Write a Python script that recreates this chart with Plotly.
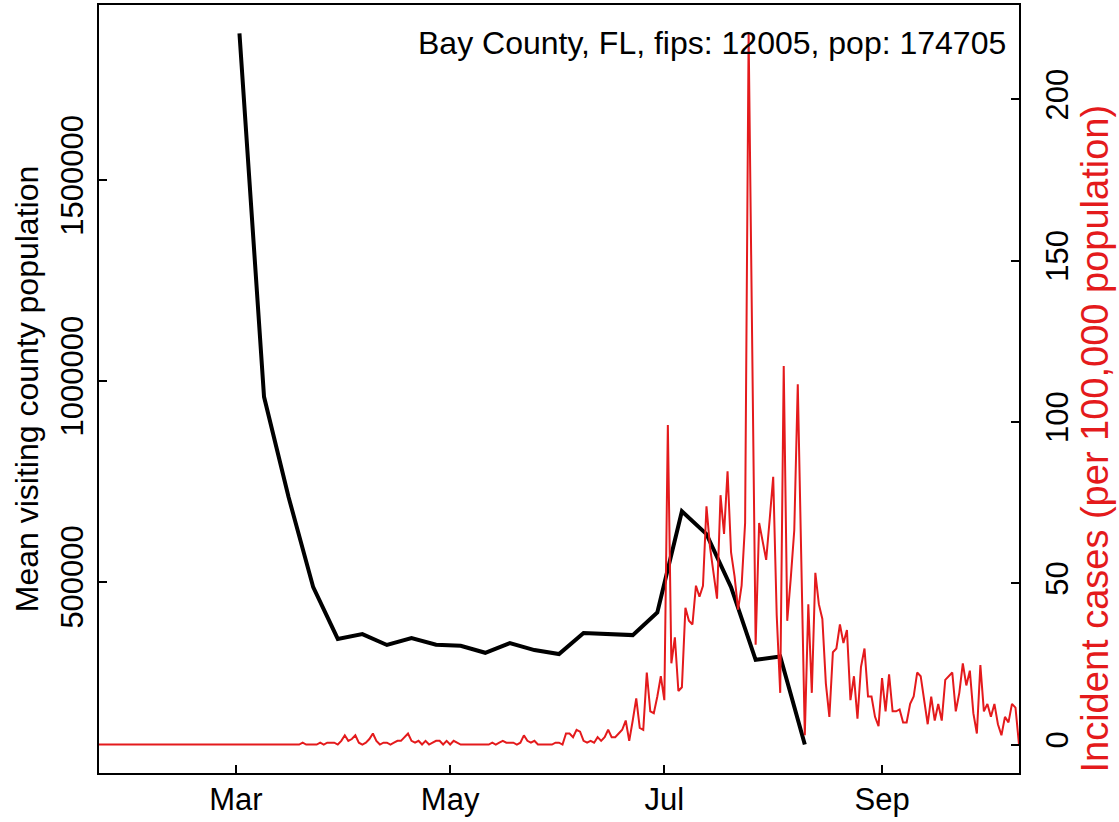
import pandas as pd
import plotly.graph_objects as go

# -------------------------------
# Datos
# -------------------------------
POBLACION = 174705
TITULO = "Bay County, FL, fips: 12005, pop: 174705"

# poblacion media visitante, semanal (lunes)
semanas = pd.date_range("2020-03-02", "2020-08-10", freq="7D")
visitantes = [1865000, 960000, 710000, 486000, 357000, 369000, 342000, 359000,
              342500, 340000, 322600, 346700, 329300, 319400, 371600, 369000,
              366600, 423000, 675000, 618000, 486000, 305000, 313500, 94000]

# casos diarios (conteos) desde 2020-01-22
casos_ene = [0, 0, 0, 0, 0, 0, 0, 0, 0, 0]
casos_feb = [0, 0, 0, 0, 0, 0, 0, 0, 0, 0, 0, 0, 0, 0, 0, 0, 0, 0, 0, 0,
             0, 0, 0, 0, 0, 0, 0, 0, 0]
casos_mar = [0, 0, 0, 0, 0, 0, 0, 0, 0, 0, 0, 0, 0, 0, 0, 0, 0, 0, 0, 1,
             0, 0, 0, 0, 1, 0, 1, 1, 1, 0, 2]
casos_abr = [5, 2, 3, 5, 1, 0, 1, 3, 6, 2, 0, 1, 1, 0, 1, 2, 2, 4, 6, 2,
             1, 2, 0, 2, 0, 1, 2, 2, 0, 2]
casos_may = [0, 2, 1, 0, 0, 0, 0, 0, 0, 0, 0, 0, 1, 0, 1, 2, 1, 1, 1, 0,
             1, 5, 2, 1, 2, 0, 0, 0, 0, 0, 1]
casos_jun = [1, 0, 6, 6, 4, 8, 7, 2, 1, 2, 1, 4, 2, 4, 8, 4, 4, 6, 8, 13,
             2, 13, 25, 9, 8, 39, 18, 17, 26, 37]
casos_jul = [24, 173, 44, 58, 29, 31, 74, 67, 65, 86, 80, 86, 129, 107, 92, 79,
             135, 114, 148, 104, 91, 73, 86, 120, 385, 220, 54, 120, 110, 100, 122]
casos_ago = [145, 70, 28, 205, 67, 90, 116, 195, 100, 5, 76, 28, 93, 76, 68, 33,
             15, 50, 52, 65, 55, 62, 24, 37, 14, 42, 52, 26, 26, 15, 10]
casos_sep = [36, 18, 38, 18, 18, 19, 12, 12, 22, 26, 39, 37, 24, 11, 26, 13,
             22, 13, 35, 37, 39, 18, 28, 44, 32, 40, 17, 6, 43, 18]
casos_oct = [22, 15, 22, 11, 5, 15, 12, 22, 20, 0]

casos = (casos_ene + casos_feb + casos_mar + casos_abr + casos_may +
         casos_jun + casos_jul + casos_ago + casos_sep + casos_oct)
dias = pd.date_range("2020-01-22", periods=len(casos), freq="D")
incidencia = [c / POBLACION * 100000 for c in casos]

meses_vals = ["2020-03-01", "2020-05-01", "2020-07-01", "2020-09-01"]
meses_txt = ["Mar", "May", "Jul", "Sep"]
ticks_izq = [500000, 1000000, 1500000]
ticks_der = [0, 50, 100, 150, 200]

ROJO = "#E41A1C"
FUENTE = "Liberation Sans, Arial, sans-serif"


def rango_r(valores):
    # rango al estilo R: 4% extra a cada lado
    lo, hi = min(valores), max(valores)
    d = (hi - lo) * 0.04
    return [lo - d, hi + d]


# -------------------------------
# Figura
# -------------------------------
fig = go.Figure()

fig.add_trace(go.Scatter(x=semanas, y=visitantes, mode="lines",
                         line=dict(color="black", width=4),
                         yaxis="y", showlegend=False))
fig.add_trace(go.Scatter(x=dias, y=incidencia, mode="lines",
                         line=dict(color=ROJO, width=2),
                         yaxis="y2", showlegend=False))

eje_comun = dict(showline=True, linecolor="black", linewidth=1.5,
                 ticks="inside", ticklen=8, tickwidth=1.5, tickcolor="black",
                 showgrid=False, zeroline=False, automargin=False)

fig.update_layout(
    width=1119, height=822,
    margin=dict(l=99, r=100, t=5, b=49),
    paper_bgcolor="white", plot_bgcolor="white",
    font=dict(family=FUENTE, size=31, color="black"),
    xaxis=dict(eje_comun, type="date", mirror=True,
               range=[dias[0], dias[-1]],
               tickvals=meses_vals, ticktext=meses_txt,
               ticklabelstandoff=-2),
    yaxis=dict(eje_comun, range=rango_r(visitantes),
               tickvals=ticks_izq, ticktext=[str(v) for v in ticks_izq],
               tickangle=-90, ticklabelstandoff=2),
    yaxis2=dict(eje_comun, overlaying="y", side="right",
                range=rango_r(incidencia),
                tickvals=ticks_der, ticktext=[str(v) for v in ticks_der],
                tickangle=-90, ticklabelstandoff=10),
    annotations=[
        dict(text=TITULO, xref="paper", yref="paper",
             x=0.988, y=0.95, xanchor="right", yanchor="middle",
             showarrow=False, font=dict(size=32)),
        dict(text="Mean visiting county population", xref="paper", yref="paper",
             x=-0.078, y=0.5, xanchor="center", yanchor="middle",
             textangle=-90, showarrow=False, font=dict(size=32)),
        dict(text="Incident cases (per 100,000 population)", xref="paper",
             yref="paper", x=1.083, y=0.436, xanchor="center", yanchor="middle",
             textangle=-90, showarrow=False, font=dict(size=38, color=ROJO)),
    ],
)

# sin margen del body para que la figura quede en (0, 0)
fig.write_html("out.html", config={"displayModeBar": False},
               post_script="document.body.style.margin = '0px';")
